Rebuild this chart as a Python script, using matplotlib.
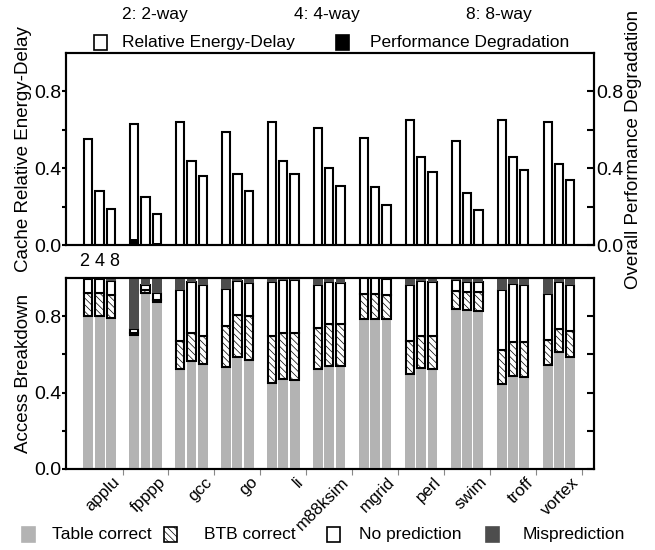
import numpy as np
import matplotlib
matplotlib.use("Agg")
import matplotlib.pyplot as plt
from matplotlib.patches import Rectangle

plt.rcParams['font.family'] = ['Liberation Sans', 'DejaVu Sans']
plt.rcParams['hatch.linewidth'] = 0.5

benchmarks = ['applu', 'fpppp', 'gcc', 'go', 'li', 'm88ksim', 'mgrid', 'perl', 'swim', 'troff', 'vortex']
ways = ['2', '4', '8']

# relative energy-delay per benchmark, columns = 2-way, 4-way, 8-way
energy_delay = np.array([
    [0.55, 0.28, 0.19],
    [0.63, 0.25, 0.16],
    [0.64, 0.44, 0.36],
    [0.59, 0.37, 0.28],
    [0.64, 0.44, 0.37],
    [0.61, 0.40, 0.31],
    [0.56, 0.30, 0.21],
    [0.65, 0.46, 0.38],
    [0.54, 0.27, 0.18],
    [0.65, 0.46, 0.39],
    [0.64, 0.42, 0.34],
])
perf_degradation = np.array([
    [0.0, 0.0, 0.0],
    [0.03, 0.0, 0.009],
    [0.0, 0.0, 0.0],
    [0.0, 0.0, 0.0],
    [0.0, 0.0, 0.0],
    [0.0, 0.0, 0.0],
    [0.0, 0.0, 0.0],
    [0.0, 0.0, 0.0],
    [0.0, 0.0, 0.0],
    [0.0, 0.0, 0.0],
    [0.0, 0.0, 0.0],
])

# access breakdown fractions
table_correct = np.array([
    [0.80, 0.80, 0.79],
    [0.70, 0.92, 0.873],
    [0.524, 0.564, 0.551],
    [0.532, 0.585, 0.569],
    [0.45, 0.471, 0.468],
    [0.524, 0.541, 0.538],
    [0.787, 0.787, 0.787],
    [0.499, 0.529, 0.524],
    [0.839, 0.834, 0.829],
    [0.445, 0.489, 0.482],
    [0.546, 0.611, 0.586],
])
btb_correct = np.array([
    [0.12, 0.12, 0.123],
    [0.012, 0.015, 0.014],
    [0.144, 0.148, 0.147],
    [0.218, 0.22, 0.231],
    [0.245, 0.241, 0.244],
    [0.212, 0.218, 0.221],
    [0.129, 0.129, 0.122],
    [0.169, 0.166, 0.171],
    [0.095, 0.093, 0.096],
    [0.18, 0.176, 0.181],
    [0.128, 0.124, 0.135],
])
no_prediction = np.array([
    [0.075, 0.075, 0.07],
    [0.02, 0.03, 0.035],
    [0.271, 0.265, 0.267],
    [0.192, 0.181, 0.174],
    [0.284, 0.279, 0.276],
    [0.226, 0.218, 0.215],
    [0.082, 0.082, 0.086],
    [0.297, 0.288, 0.284],
    [0.054, 0.052, 0.052],
    [0.31, 0.305, 0.302],
    [0.244, 0.242, 0.241],
])
misprediction = 1.0 - table_correct - btb_correct - no_prediction

TABLE_GRAY = '#b3b3b3'
MISS_GRAY = '#4d4d4d'
HATCH = '\\' * 5
FS = 12.5

fig = plt.figure(figsize=(6.55, 5.5), dpi=100)
ax1 = fig.add_axes([0.1008, 0.5545, 0.806, 0.349])
ax2 = fig.add_axes([0.1008, 0.1473, 0.806, 0.3473])

x = np.arange(len(benchmarks))
offsets = np.array([-0.245, 0.0, 0.245])
width = 0.18
solid_width = 0.215

for j in range(3):
    xs = x + offsets[j]
    ax1.bar(xs, energy_delay[:, j], width, color='white', edgecolor='black', linewidth=1.5, zorder=3)
    ax1.bar(xs, perf_degradation[:, j], width, color='black', linewidth=0, zorder=4)

    bottom = np.zeros(len(benchmarks))
    ax2.bar(xs, table_correct[:, j], solid_width, bottom=bottom, color=TABLE_GRAY, linewidth=0, zorder=3)
    bottom = bottom + table_correct[:, j]
    ax2.bar(xs, btb_correct[:, j], width, bottom=bottom, color='white', edgecolor='black',
            hatch=HATCH, linewidth=1.5, zorder=3)
    bottom = bottom + btb_correct[:, j]
    ax2.bar(xs, no_prediction[:, j], width, bottom=bottom, color='white', edgecolor='black',
            linewidth=1.5, zorder=3)
    bottom = bottom + no_prediction[:, j]
    ax2.bar(xs, misprediction[:, j], solid_width, bottom=bottom, color=MISS_GRAY, linewidth=0, zorder=3)

for ax in (ax1, ax2):
    ax.set_xlim(-0.73, 10.76)
    ax.set_ylim(0, 1.0)
    ax.set_yticks([0, 0.2, 0.4, 0.6, 0.8])
    ax.set_yticklabels(['0.0', '', '0.4', '', '0.8'], fontsize=14)
    ax.tick_params(axis='y', direction='out', length=3, width=1.5, pad=0)
    for s in ax.spines.values():
        s.set_linewidth(1.5)

ax1.set_xticks([])
ax2.set_xticks(x + 0.5)
ax2.set_xticklabels(benchmarks, rotation=45, ha='right', rotation_mode='default', fontsize=12.2)
ax2.tick_params(axis='x', length=4, width=0.8, color='#888888', pad=0)

ax1.set_ylabel('Cache Relative Energy-Delay', fontsize=13.5, labelpad=2)
ax2.set_ylabel('Access Breakdown', fontsize=13.5, labelpad=2)

# right-hand axes share the 0..1 scale
r1 = ax1.twinx()
r1.set_ylim(0, 1.0)
r1.set_yticks([0, 0.2, 0.4, 0.6, 0.8])
r1.set_yticklabels(['0.0', '', '0.4', '', '0.8'], fontsize=14)
r1.tick_params(axis='y', direction='in', length=5, width=1.5, pad=2)
r1.set_ylabel('Overall Performance Degradation', fontsize=13.5, labelpad=1)
r2 = ax2.twinx()
r2.set_ylim(0, 1.0)
r2.set_yticks([0, 0.2, 0.4, 0.6, 0.8])
r2.set_yticklabels([])
r2.tick_params(axis='y', direction='in', length=5, width=1.5)
for r in (r1, r2):
    for s in r.spines.values():
        s.set_linewidth(1.5)

# way labels over the first group
ax2.text(x[0], 1.04, ' '.join(ways), ha='center', va='bottom', fontsize=13)

# legends drawn in figure coordinates
def fig_box(xc, yc, fc, hatch=None):
    w, h = 13 / 655, 15 / 550
    outlined = fc not in (TABLE_GRAY, MISS_GRAY)
    fig.patches.append(Rectangle((xc - w / 2, yc - h / 2), w, h, transform=fig.transFigure,
                                 facecolor=fc, edgecolor='black' if outlined else fc,
                                 hatch=hatch, linewidth=1.2))

for label, xl in zip(['2: 2-way', '4: 4-way', '8: 8-way'], [0.186, 0.449, 0.711]):
    fig.text(xl, 0.973, label, ha='left', va='center', fontsize=FS)
fig_box(0.154, 0.9236, 'white')
fig.text(0.186, 0.9236, 'Relative Energy-Delay', ha='left', va='center', fontsize=FS)
fig_box(0.523, 0.9236, 'black')
fig.text(0.565, 0.9236, 'Performance Degradation', ha='left', va='center', fontsize=FS)

bottom_items = [
    (28 / 655, TABLE_GRAY, None, 'Table correct', 0.080),
    (170.5 / 655, 'white', HATCH, 'BTB correct', 0.311),
    (333 / 655, 'white', None, 'No prediction', 0.548),
    (492.5 / 655, MISS_GRAY, None, 'Misprediction', 0.798),
]
for xc, fc, h, label, xl in bottom_items:
    fig_box(xc, 0.0273, fc, h)
    fig.text(xl, 0.0273, label, ha='left', va='center', fontsize=FS)

fig.savefig('out.png', dpi=100)
